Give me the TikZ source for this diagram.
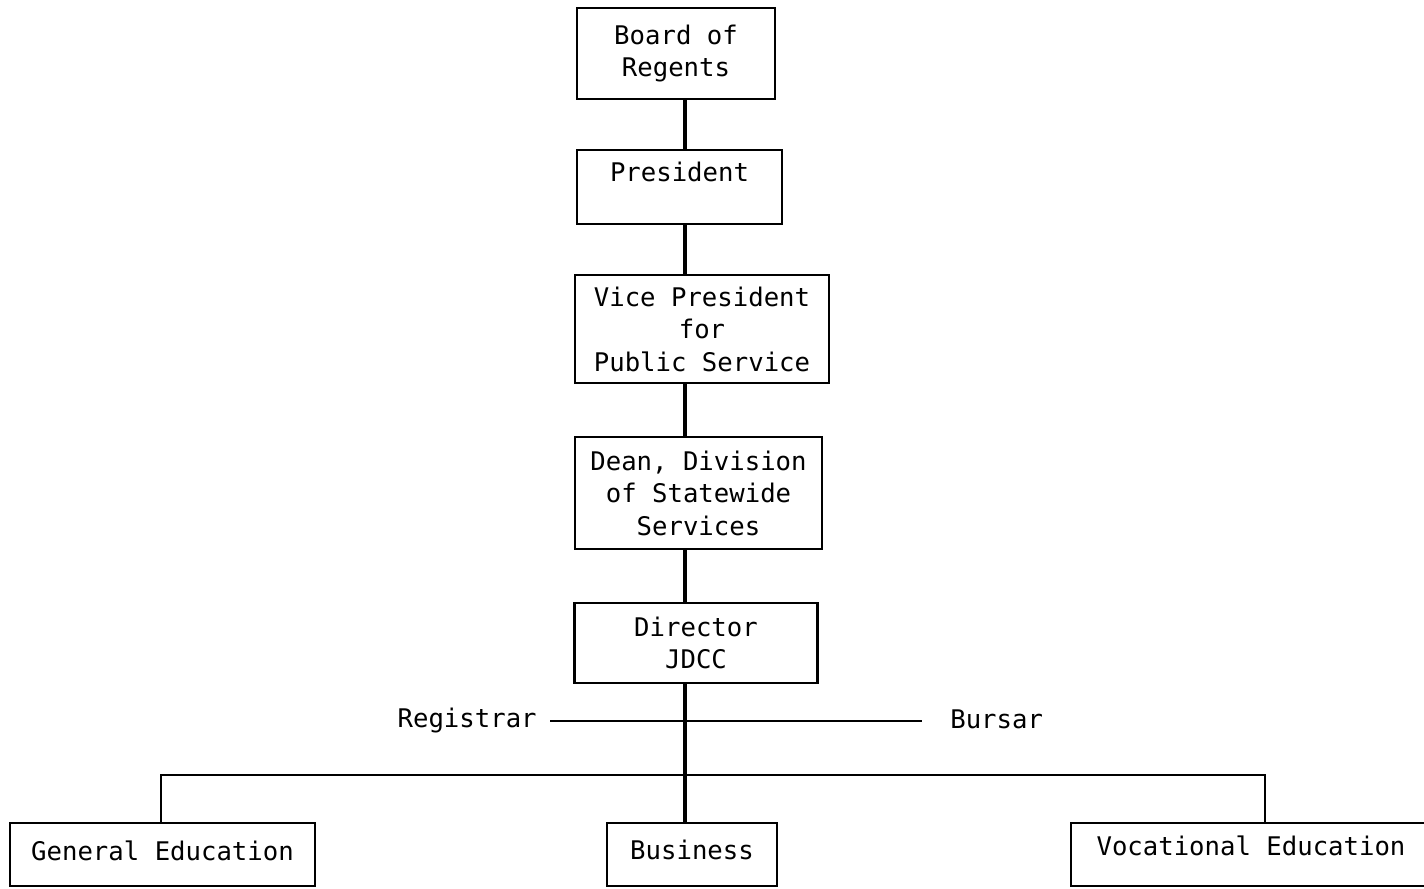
\documentclass[tikz,border=0pt]{standalone}
\usepackage{fontspec}
\setmonofont{DejaVu Sans Mono}
\begin{document}
\begin{tikzpicture}[x=0.02cm,y=-0.02cm,
  box/.style={draw=black,line width=1.4pt,rectangle,inner sep=0pt,align=center,
    font=\ttfamily\fontsize{14.6}{18.5}\selectfont},
  lbl/.style={inner sep=0pt,font=\ttfamily\fontsize{14.6}{18.5}\selectfont},
  spineline/.style={line width=1.8pt},
  thinline/.style={line width=1.1pt}]
\useasboundingbox (0,0) rectangle (1424,889);
\clip (0,0) rectangle (1424,889);
\coordinate (spine) at (685,0);
\coordinate (hl) at (161,775);
\coordinate (hr) at (1265,775);
\node[box,minimum width=3.96cm,minimum height=1.82cm] (board) at (676,53.5) {Board of\\Regents};
\node[box,minimum width=4.10cm,minimum height=1.48cm,text depth=17pt] (pres) at (679.5,187) {President};
\node[box,minimum width=5.08cm,minimum height=2.16cm] (vp) at (702,329) {Vice President\\for\\Public Service};
\node[box,minimum width=4.94cm,minimum height=2.24cm] (dean) at (698.5,493) {Dean, Division\\of Statewide\\Services};
\node[box,minimum width=4.86cm,minimum height=1.60cm] (dir) at (696,643) {Director\\JDCC};
\node[lbl,anchor=east] (reg) at (537,721) {Registrar};
\node[lbl,anchor=west] (bur) at (950,719) {Bursar};
\node[box,minimum width=6.10cm,minimum height=1.26cm,text depth=4pt] (gen) at (162.5,854.5) {General Education};
\node[box,minimum width=3.40cm,minimum height=1.26cm,text depth=5.7pt] (bus) at (692,854.5) {Business};
\node[box,minimum width=7.20cm,minimum height=1.26cm,text depth=9.7pt] (voc) at (1251,854.5) {Vocational Education};
\draw[spineline] (board.south -| spine) -- (pres.north -| spine);
\draw[spineline] (pres.south -| spine) -- (vp.north -| spine);
\draw[spineline] (vp.south -| spine) -- (dean.north -| spine);
\draw[spineline] (dean.south -| spine) -- (dir.north -| spine);
\draw[spineline] (dir.south -| spine) -- (bus.north -| spine);
\draw[thinline] ([xshift=0.26cm]reg.east) -- ([xshift=-0.56cm]reg.east -| bur.west);
\draw[thinline] (gen.north -| hl) -- (hl) -- (hr) -- (voc.north -| hr);
\end{tikzpicture}
\end{document}
